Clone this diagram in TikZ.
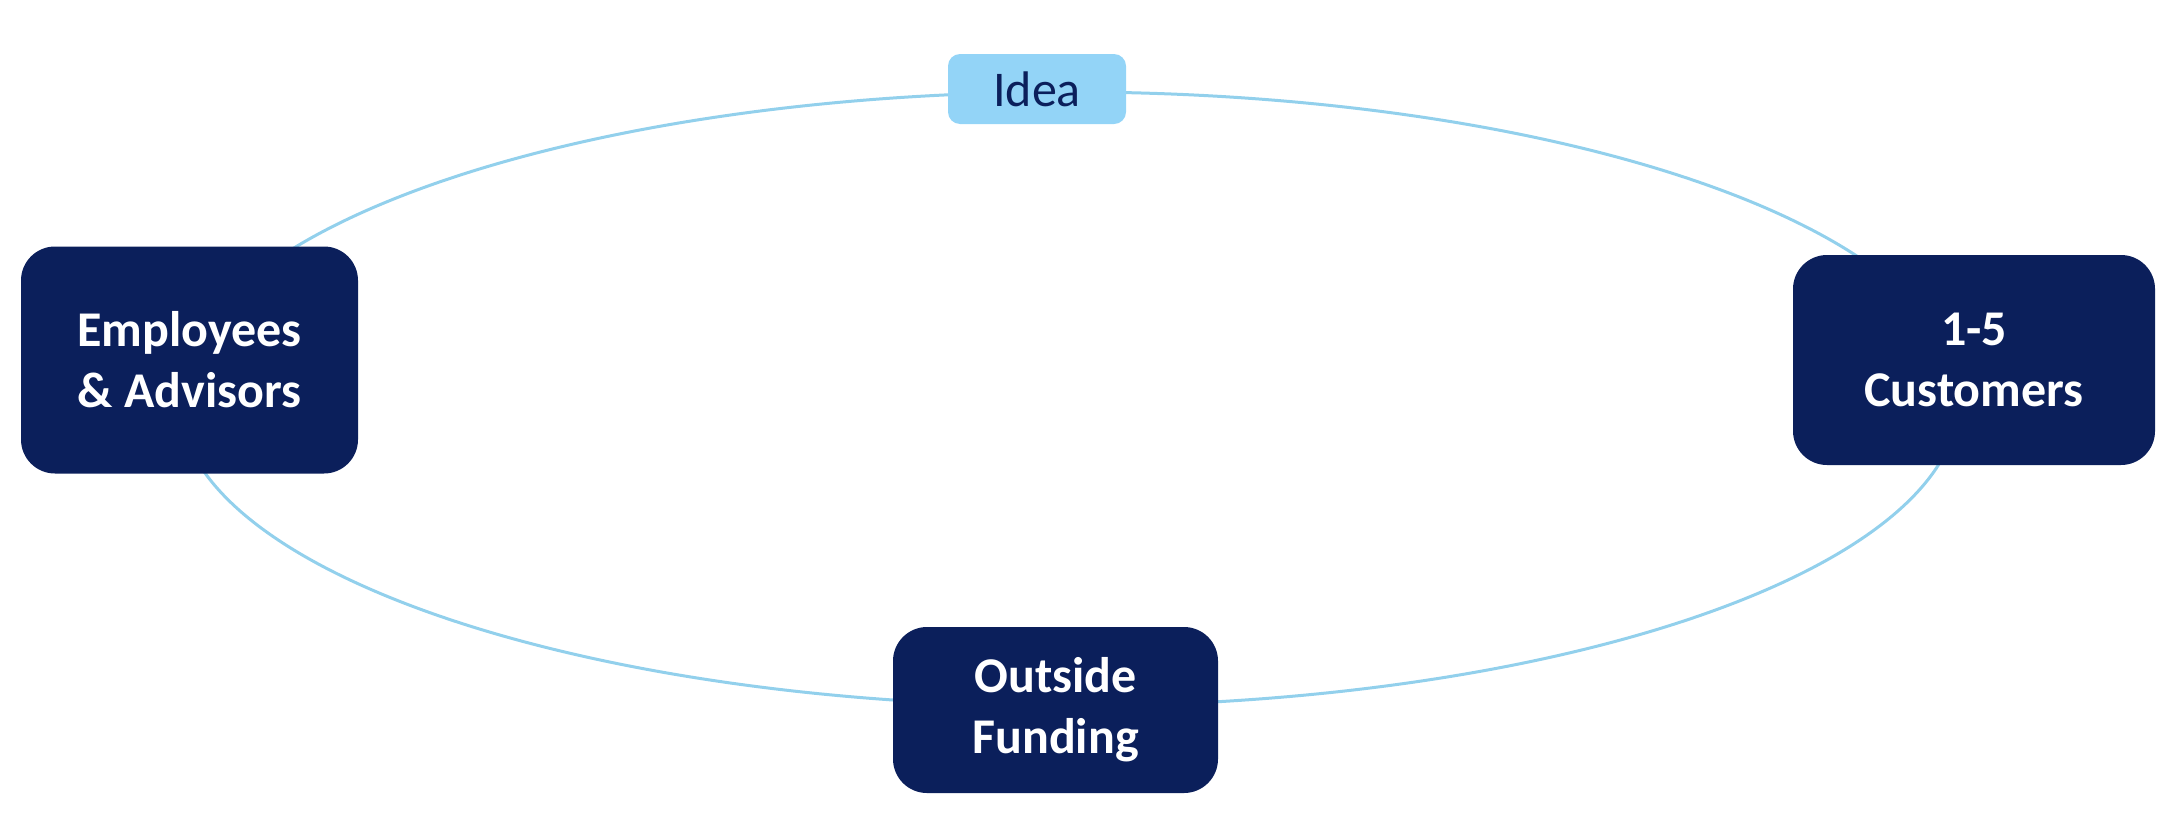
\documentclass[tikz,border=0pt]{standalone}
\usepackage{fontspec}
\setmainfont{Carlito}
\definecolor{navy}{HTML}{0B1F5B}
\definecolor{ringblue}{HTML}{92D0EC}
\definecolor{ideafill}{HTML}{93D4F7}
\begin{document}
\begin{tikzpicture}[x=1pt,y=-1pt,
  bigbox/.style={draw=none,fill=navy,rounded corners=34pt,inner sep=0pt,align=center,
    text=white,font=\fontsize{50}{61}\selectfont\bfseries},
  ideabox/.style={draw=none,fill=ideafill,rounded corners=12pt,inner sep=0pt,align=center,
    text=navy,font=\fontsize{50}{61}\selectfont},
  ring/.style={draw=ringblue,line width=3pt}]
\useasboundingbox (0,0) rectangle (2184,836);
\coordinate (c) at (1069,399);
\draw[ring] (c) ellipse [x radius=890pt, y radius=307pt];
\node[ideabox,minimum width=178pt,minimum height=70pt] (idea) at (1037,89) {Idea};
\node[bigbox,minimum width=337pt,minimum height=227pt] (emp) at (189.5,360) {Employees\\\& Advisors};
\node[bigbox,minimum width=362pt,minimum height=210pt] (cust) at (1974,360) {1-5\\Customers};
\node[bigbox,minimum width=325pt,minimum height=166pt] (fund) at (1055.5,710) {Outside\\Funding};
\end{tikzpicture}
\end{document}
